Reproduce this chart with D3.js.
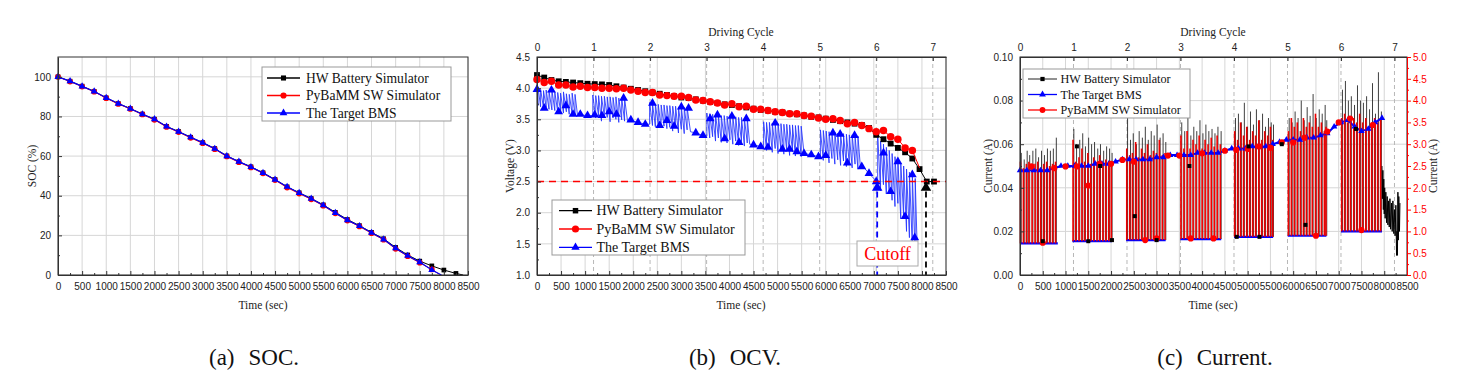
<!DOCTYPE html>
<html>
<head>
<meta charset="utf-8">
<script src="https://cdn.jsdelivr.net/npm/d3@7"></script>
<style>
  body { margin: 0; background: #fff; }
</style>
</head>
<body>
<div id="fig"></div>
<script>
// ---------------- data ----------------
const timeTicks = [0, 500, 1000, 1500, 2000, 2500, 3000, 3500, 4000, 4500, 5000, 5500, 6000, 6500, 7000, 7500, 8000, 8500];
const cycleTicks = [0, 1, 2, 3, 4, 5, 6, 7];
const cycleLen = 1175; // seconds per driving cycle (top axis)

// (a) SOC (%), one marker every 250 s
const socTicks = [0, 20, 40, 60, 80, 100];
const socTime = [0, 250, 500, 750, 1000, 1250, 1500, 1750, 2000, 2250, 2500, 2750, 3000, 3250, 3500, 3750, 4000,
  4250, 4500, 4750, 5000, 5250, 5500, 5750, 6000, 6250, 6500, 6750, 7000, 7250, 7500, 7750, 8000, 8250];
const socHW = [100, 97.8, 95.3, 92.7, 89.4, 86.5, 84.0, 81.2, 78.6, 75.0, 72.4, 69.5, 66.8, 63.8, 60.1, 57.2, 54.6,
  51.6, 48.2, 44.5, 41.5, 38.6, 35.4, 31.6, 28.0, 24.9, 21.5, 18.3, 13.9, 10.1, 7.0, 4.6, 2.5, 0.8];
const socPy = [100, 97.6, 95.1, 92.5, 89.2, 86.3, 83.8, 81.0, 78.3, 74.7, 72.1, 69.2, 66.5, 63.5, 59.8, 56.9, 54.3,
  51.3, 47.9, 44.1, 41.1, 38.2, 35.0, 31.1, 27.5, 24.5, 21.1, 17.8, 13.2, 9.5, 6.2, 2.8];
const socBMS = [100, 97.8, 95.2, 92.6, 89.4, 86.5, 83.9, 81.1, 78.6, 74.9, 72.3, 69.5, 66.8, 63.7, 60.0, 57.2, 54.5,
  51.5, 48.1, 44.5, 41.4, 38.5, 35.2, 31.3, 27.7, 24.7, 21.3, 18.0, 13.5, 9.7, 6.5, 2.5];
const socEmpty = [8400, 7930, 7950]; // time where HW / PyBaMM / BMS reach 0 %

// (b) voltage (V)
const voltTicks = [1.0, 1.5, 2.0, 2.5, 3.0, 3.5, 4.0, 4.5];
const voltStep = 150; // HW and PyBaMM markers every 150 s
const hwV = [4.21, 4.17, 4.13, 4.11, 4.10, 4.09, 4.08, 4.07, 4.065, 4.06,
  4.05, 4.03, 4.01, 3.99, 3.97, 3.95, 3.93, 3.91, 3.89, 3.87,
  3.85, 3.84, 3.82, 3.80, 3.78, 3.76, 3.74, 3.73, 3.71, 3.69,
  3.67, 3.65, 3.64, 3.62, 3.61, 3.59, 3.58, 3.56, 3.54, 3.53,
  3.51, 3.49, 3.47, 3.45, 3.43, 3.41, 3.36, 3.25, 3.18, 3.11,
  3.04, 2.97, 2.87, 2.70, 2.50, 2.50];
const pyV = [4.14, 4.09, 4.11, 4.05, 4.05, 4.02, 4.03, 4.01, 4.01, 4.00,
  4.00, 3.99, 4.00, 3.97, 3.95, 3.93, 3.93, 3.89, 3.88, 3.87,
  3.87, 3.85, 3.81, 3.80, 3.78, 3.76, 3.73, 3.75, 3.70, 3.71,
  3.66, 3.66, 3.64, 3.62, 3.61, 3.59, 3.59, 3.56, 3.55, 3.52,
  3.50, 3.51, 3.48, 3.43, 3.45, 3.40, 3.35, 3.30, 3.32, 3.22,
  3.18, 3.04, 3.00];
const pyVEnd = [7950, 2.72];
// BMS voltage: [time, value] or [time, value, spike top]
const bmsV = [
  [0, 4.05], [20, 3.72, 4.02], [75, 3.70, 3.98], [135, 3.68, 3.96], [190, 3.69, 3.97], [250, 3.66, 3.95], [310, 3.65, 3.97],
  [370, 3.64, 3.94], [430, 3.62, 3.93], [490, 3.63, 3.92], [550, 3.60, 3.94], [610, 3.62, 3.91], [670, 3.58, 3.90],
  [730, 3.59, 3.92], [790, 3.57, 3.90], [840, 3.58], [900, 3.58], [1000, 3.56], [1100, 3.56],
  [1160, 3.56, 3.89], [1220, 3.52, 3.88], [1280, 3.55, 3.88], [1340, 3.47, 3.87], [1400, 3.54, 3.87], [1460, 3.53, 3.86],
  [1520, 3.46, 3.86], [1580, 3.52, 3.85], [1640, 3.50, 3.86], [1700, 3.45, 3.84], [1760, 3.49, 3.85], [1820, 3.47, 3.84],
  [1880, 3.48], [1960, 3.48], [2100, 3.45], [2260, 3.42],
  [2340, 3.42, 3.77], [2400, 3.40, 3.76], [2460, 3.38, 3.74], [2520, 3.42, 3.74], [2580, 3.36, 3.73], [2640, 3.39, 3.73],
  [2700, 3.35, 3.72], [2760, 3.37, 3.72], [2820, 3.31, 3.71], [2880, 3.36, 3.71], [2940, 3.28, 3.70], [3000, 3.34, 3.70],
  [3060, 3.27, 3.69], [3120, 3.33, 3.69], [3190, 3.30], [3300, 3.28], [3455, 3.24],
  [3530, 3.23, 3.60], [3590, 3.20, 3.59], [3650, 3.22, 3.58], [3710, 3.15, 3.58], [3770, 3.20, 3.57], [3830, 3.13, 3.56],
  [3890, 3.19, 3.56], [3950, 3.12, 3.55], [4010, 3.17, 3.55], [4070, 3.10, 3.54], [4130, 3.15, 3.54], [4190, 3.08, 3.53],
  [4250, 3.14, 3.53], [4310, 3.07, 3.52], [4370, 3.12, 3.52], [4420, 3.10], [4510, 3.09], [4657, 3.06],
  [4710, 3.05, 3.46], [4770, 3.00, 3.45], [4830, 3.04, 3.45], [4890, 2.97, 3.44], [4950, 3.03, 3.44], [5010, 2.95, 3.43],
  [5070, 3.01, 3.43], [5130, 2.94, 3.42], [5190, 3.00, 3.42], [5250, 2.92, 3.41], [5310, 2.98, 3.41], [5370, 2.91, 3.40],
  [5430, 2.97, 3.40], [5490, 2.90, 3.39], [5550, 2.95], [5700, 2.93], [5850, 2.90],
  [5890, 2.90, 3.33], [5950, 2.84, 3.32], [6010, 2.89, 3.31], [6070, 2.80, 3.30], [6130, 2.87, 3.29], [6190, 2.78, 3.29],
  [6250, 2.85, 3.28], [6310, 2.76, 3.27], [6370, 2.83, 3.27], [6430, 2.74, 3.26], [6490, 2.80, 3.25], [6550, 2.72, 3.25],
  [6610, 2.78, 3.24], [6670, 2.70, 3.23], [6720, 2.74], [6800, 2.72], [6910, 2.62], [7065, 2.50],
  [7080, 2.40, 3.25], [7140, 2.35, 3.15], [7200, 2.45, 3.10], [7260, 2.30, 3.05], [7320, 2.33, 3.00], [7380, 2.20, 2.95],
  [7440, 2.10, 2.90], [7500, 2.15, 2.85], [7560, 1.90, 2.80], [7620, 1.95, 2.75], [7680, 1.70, 2.70], [7740, 1.60, 2.65],
  [7800, 1.45, 2.62], [7860, 1.30, 2.55], [7910, 1.20]];
const bmsMarkV = [[0, 3.98], [150, 3.68], [300, 3.97], [450, 3.62], [600, 3.72], [750, 3.58], [900, 3.58], [1050, 3.56],
  [1200, 3.57], [1350, 3.56], [1500, 3.62], [1650, 3.58], [1800, 3.84], [1950, 3.49], [2100, 3.45], [2250, 3.42],
  [2400, 3.76], [2550, 3.40], [2700, 3.48], [2850, 3.39], [3000, 3.70], [3150, 3.68], [3300, 3.28], [3450, 3.24],
  [3600, 3.51], [3750, 3.57], [3900, 3.19], [4050, 3.55], [4200, 3.13], [4350, 3.51], [4500, 3.09], [4650, 3.06],
  [4800, 3.05], [4950, 3.44], [5100, 3.02], [5250, 3.02], [5400, 2.98], [5550, 2.95], [5700, 2.93], [5850, 2.90],
  [6000, 2.92], [6150, 3.28], [6300, 3.26], [6450, 2.80], [6600, 3.24], [6750, 2.74], [6900, 2.63], [7050, 2.50],
  [7200, 2.96], [7350, 2.34], [7500, 2.82], [7650, 1.94], [7800, 2.61], [7850, 1.60]];
const cutoffV = 2.5;
const cutoffTime = [7070, 8084]; // BMS, HW
const cutoffMark = 2.40;

// (c) current (A); PyBaMM is read on the right axis
const curTicks = [0, 0.02, 0.04, 0.06, 0.08, 0.10];
const curRightTicks = [0, 0.5, 1.0, 1.5, 2.0, 2.5, 3.0, 3.5, 4.0, 4.5, 5.0];
const burstStart = [0, 1150, 2330, 3520, 4700, 5880, 7050];
const burstEnd = [830, 2020, 3200, 4420, 5560, 6730, 7950];
const burstLowA = [0.0145, 0.0155, 0.016, 0.0165, 0.0175, 0.018, 0.020];
const pulseTime = [
  [10, 75, 140, 195, 265, 330, 390, 455, 520, 585, 650, 715, 780],
  [1165, 1225, 1295, 1360, 1420, 1490, 1555, 1620, 1690, 1750, 1820, 1885, 1950, 2005],
  [2345, 2410, 2470, 2540, 2600, 2670, 2735, 2800, 2865, 2930, 2995, 3060, 3125, 3185],
  [3535, 3600, 3670, 3735, 3800, 3865, 3935, 4000, 4065, 4130, 4200, 4265, 4330, 4400],
  [4715, 4780, 4845, 4910, 4980, 5045, 5110, 5175, 5245, 5310, 5375, 5440, 5500, 5550],
  [5895, 5960, 6025, 6090, 6160, 6225, 6290, 6355, 6420, 6490, 6555, 6620, 6685, 6720],
  [7065, 7130, 7195, 7260, 7330, 7395, 7460, 7525, 7595, 7660, 7725, 7790, 7855, 7920]];
const pulseHW = [
  [0.056, 0.053, 0.057, 0.055, 0.057, 0.058, 0.054, 0.057, 0.055, 0.058, 0.057, 0.058, 0.063],
  [0.067, 0.060, 0.062, 0.065, 0.059, 0.063, 0.060, 0.061, 0.058, 0.060, 0.057, 0.059, 0.058, 0.056],
  [0.072, 0.062, 0.065, 0.060, 0.066, 0.063, 0.068, 0.062, 0.066, 0.064, 0.069, 0.063, 0.065, 0.061],
  [0.070, 0.066, 0.073, 0.064, 0.068, 0.066, 0.071, 0.065, 0.069, 0.066, 0.067, 0.065, 0.068, 0.066],
  [0.072, 0.074, 0.070, 0.079, 0.068, 0.075, 0.069, 0.076, 0.071, 0.074, 0.068, 0.072, 0.070, 0.069],
  [0.072, 0.070, 0.075, 0.072, 0.080, 0.071, 0.077, 0.073, 0.083, 0.072, 0.076, 0.074, 0.078, 0.071],
  [0.085, 0.089, 0.080, 0.082, 0.078, 0.087, 0.080, 0.079, 0.082, 0.076, 0.088, 0.074, 0.093, 0.075]];
const pulsePy = [
  [2.60, 2.45, 2.55, 2.60, 2.50, 2.55, 2.60, 2.45, 2.55, 2.60, 2.50, 2.55, 2.60],
  [3.10, 2.60, 2.70, 2.90, 2.60, 2.80, 2.55, 2.70, 2.60, 2.75, 2.55, 2.65, 2.60, 2.55],
  [2.90, 2.75, 2.80, 3.05, 2.70, 2.90, 2.80, 3.00, 2.75, 2.85, 2.80, 3.10, 2.75, 2.80],
  [3.20, 2.90, 3.30, 2.90, 3.10, 3.00, 3.20, 2.90, 3.10, 3.00, 3.15, 2.95, 3.20, 3.00],
  [3.30, 3.10, 3.50, 3.20, 3.40, 3.10, 3.30, 3.20, 3.55, 3.10, 3.30, 3.20, 3.40, 3.10],
  [3.30, 3.60, 3.40, 3.50, 3.30, 3.60, 3.40, 3.50, 3.40, 3.70, 3.40, 3.50, 3.30, 3.40],
  [3.60, 3.70, 3.50, 3.60, 3.60, 3.50, 3.70, 3.50, 3.60, 3.40, 3.50, 3.60, 3.50, 3.60]];
const bmsTopStep = 150;
const bmsTopA = [0.048, 0.048, 0.048, 0.048, 0.048, 0.049, 0.050, 0.050, 0.050, 0.050,
  0.050, 0.051, 0.051, 0.051, 0.052, 0.053, 0.053, 0.053, 0.053, 0.053,
  0.054, 0.054, 0.055, 0.055, 0.055, 0.055, 0.056, 0.056, 0.056, 0.056,
  0.057, 0.058, 0.058, 0.058, 0.059, 0.059, 0.059, 0.060, 0.061, 0.062,
  0.062, 0.062, 0.063, 0.063, 0.064, 0.065, 0.068, 0.070, 0.071, 0.068,
  0.066, 0.067, 0.070, 0.072];
const pyMarkT = [250, 500, 750, 1000, 1250, 1500, 1750, 2000, 2250, 2500, 2750, 3000, 3250, 3500, 3750, 4000,
  4250, 4500, 4750, 5000, 5250, 5500, 5750, 6000, 6250, 6500, 6750, 7000, 7250, 7500, 7750];
const pyMarkA = [2.49, 0.74, 2.45, 2.49, 2.49, 2.05, 2.55, 2.55, 2.64, 2.60, 0.80, 0.84, 2.74, 2.74, 0.84, 2.79,
  0.84, 2.85, 2.87, 2.89, 2.95, 2.92, 3.04, 3.04, 3.15, 0.90, 3.29, 3.50, 3.59, 1.03, 3.44];
const hwMarkA = [[500, 0.0155], [1250, 0.059], [1500, 0.0155], [1760, 0.050], [2020, 0.016], [2520, 0.027],
  [3000, 0.016], [3720, 0.050], [4760, 0.0175], [5020, 0.059], [5260, 0.0175], [5750, 0.060], [6270, 0.023], [7380, 0.067]];
const hwTail = [[7950, 0.050], [7960, 0.035], [7970, 0.048], [7980, 0.030], [7990, 0.044], [8000, 0.028], [8010, 0.040],
  [8020, 0.026], [8035, 0.038], [8050, 0.024], [8065, 0.036], [8080, 0.023], [8095, 0.034], [8110, 0.022], [8125, 0.035],
  [8140, 0.021], [8160, 0.033], [8175, 0.020], [8190, 0.034], [8210, 0.019], [8225, 0.030], [8240, 0.018], [8255, 0.032],
  [8270, 0.009], [8280, 0.020], [8290, 0.009], [8300, 0.038], [8310, 0.016], [8320, 0.036], [8335, 0.020], [8345, 0.033]];

const names = ["HW Battery Simulator", "PyBaMM SW Simulator", "The Target BMS"];
const captions = [["(a)", "SOC."], ["(b)", "OCV."], ["(c)", "Current."]];

// ---------------- drawing ----------------
const serif = "'Liberation Serif', 'Times New Roman', Times, serif";
const sans = "'Liberation Sans', Arial, sans-serif";
const gridColor = "#d6d6d6";
const axisColor = "#333";
const BLUE = "#0000ff", RED = "#ff0000", BLACK = "#000";

const svg = d3.select("#fig").append("svg").attr("width", 1467).attr("height", 381)
  .attr("font-family", serif);
svg.append("rect").attr("width", "100%").attr("height", "100%").attr("fill", "#fff");

function minorOf(ticks) {
  let out = [];
  for (let i = 0; i < ticks.length - 1; i++) out.push((ticks[i] + ticks[i + 1]) / 2);
  return out;
}

function grid(x, y, yVals, cyc) {
  const g = svg.append("g");
  const [l, r] = x.range(), [b, t] = y.range();
  g.selectAll("line.gx").data(timeTicks).join("line").attr("class", "gx")
    .attr("x1", d => x(d)).attr("x2", d => x(d)).attr("y1", t).attr("y2", b)
    .attr("stroke", gridColor);
  g.selectAll("line.gy").data(yVals).join("line").attr("class", "gy")
    .attr("x1", l).attr("x2", r).attr("y1", d => y(d)).attr("y2", d => y(d))
    .attr("stroke", gridColor);
  if (cyc) {
    g.selectAll("line.gc").data(cycleTicks.slice(1)).join("line").attr("class", "gc")
      .attr("x1", d => cyc(d)).attr("x2", d => cyc(d)).attr("y1", t).attr("y2", b)
      .attr("stroke", "#b8b8b8").attr("stroke-dasharray", "4,3");
  }
}

function axes(x, y, yTicks, fmt, cyc) {
  const g = svg.append("g").attr("color", axisColor);
  const [l, r] = x.range(), [b, t] = y.range();
  g.append("g").attr("transform", `translate(0,${b})`)
    .call(d3.axisBottom(x).tickValues(timeTicks).tickFormat(d3.format("d")).tickSize(-4).tickSizeOuter(0).tickPadding(8))
    .attr("font-family", sans).attr("font-size", 10);
  g.append("g").attr("transform", `translate(0,${b})`)
    .call(d3.axisBottom(x).tickValues(minorOf(timeTicks)).tickSize(-2).tickFormat(""))
    .call(s => s.select(".domain").remove());
  g.append("g").attr("transform", `translate(${l},0)`)
    .call(d3.axisLeft(y).tickValues(yTicks).tickFormat(fmt).tickSize(-4).tickSizeOuter(0).tickPadding(7))
    .attr("font-family", sans).attr("font-size", 10);
  g.append("g").attr("transform", `translate(${l},0)`)
    .call(d3.axisLeft(y).tickValues(minorOf(yTicks)).tickSize(-2).tickFormat(""))
    .call(s => s.select(".domain").remove());
  if (cyc) {
    g.append("g").attr("transform", `translate(0,${t})`)
      .call(d3.axisTop(cyc).tickValues(cycleTicks).tickSize(-4).tickSizeOuter(0).tickPadding(6))
      .attr("font-family", sans).attr("font-size", 10);
  }
  g.selectAll(".tick text").attr("fill", "#222");
  g.append("rect").attr("x", l).attr("y", t).attr("width", r - l).attr("height", b - t)
    .attr("fill", "none").attr("stroke", axisColor);
  return g;
}

function markers(data, x, y, type, size, color) {
  return svg.append("g").selectAll("path").data(data).join("path")
    .attr("transform", d => `translate(${x(d[0])},${y(d[1])})`)
    .attr("d", d3.symbol(type, size)())
    .attr("fill", color);
}

function legend(x0, y0, w, h, rows, o) {
  const g = svg.append("g");
  g.append("rect").attr("x", x0).attr("y", y0).attr("width", w).attr("height", h)
    .attr("fill", "#fff").attr("stroke", "#999");
  rows.forEach(function(d, i) {
    const cy = y0 + o.first + i * o.step;
    g.append("line").attr("x1", x0 + o.l1).attr("x2", x0 + o.l2).attr("y1", cy).attr("y2", cy)
      .attr("stroke", d[2]).attr("stroke-width", 1.3);
    g.append("path").attr("transform", `translate(${x0 + (o.l1 + o.l2) / 2},${cy})`)
      .attr("d", d3.symbol(d[3], d[4])()).attr("fill", d[1]);
    g.append("text").attr("x", x0 + o.tx).attr("y", cy).attr("dy", "0.34em")
      .attr("font-family", serif).attr("font-size", o.fs).attr("fill", "#111").text(d[0]);
  });
}

function title(x, y, txt, rot, color) {
  const t = svg.append("text").attr("font-family", serif).attr("font-size", 11.5).attr("fill", color || "#222")
    .attr("text-anchor", "middle").text(txt);
  if (rot) t.attr("transform", `translate(${x},${y}) rotate(-90)`);
  else t.attr("x", x).attr("y", y);
}

const line = (x, y) => d3.line().x(d => x(d[0])).y(d => y(d[1]));

// ===== (a) SOC =====
{
  const x = d3.scaleLinear().domain([0, 8500]).range([58, 468]);
  const y = d3.scaleLinear().domain([0, 110]).range([275, 57]);
  grid(x, y, socTicks, null);
  const hw = socHW.map((v, i) => [socTime[i], v]);
  const py = socPy.map((v, i) => [socTime[i], v]);
  const bms = socBMS.map((v, i) => [socTime[i], v]);
  svg.append("path").attr("d", line(x, y)(hw.concat([[socEmpty[0], 0]])))
    .attr("fill", "none").attr("stroke", BLACK).attr("stroke-width", 1);
  markers(hw, x, y, d3.symbolSquare, 22, BLACK);
  svg.append("path").attr("d", line(x, y)(py.concat([[socEmpty[1], 0]])))
    .attr("fill", "none").attr("stroke", RED).attr("stroke-width", 1);
  markers(py, x, y, d3.symbolCircle, 26, RED);
  svg.append("path").attr("d", line(x, y)(bms.concat([[socEmpty[2], 0]])))
    .attr("fill", "none").attr("stroke", BLUE).attr("stroke-width", 1.2);
  markers(bms, x, y, d3.symbolTriangle, 22, BLUE);
  axes(x, y, socTicks, d3.format("d"), null);
  title(263, 309, "Time (sec)");
  title(36, 166, "SOC (%)", true);
  legend(262, 67, 189, 54, [
    [names[0], BLACK, BLACK, d3.symbolSquare, 26],
    [names[1], RED, RED, d3.symbolCircle, 30],
    [names[2], BLUE, BLUE, d3.symbolTriangle, 26]],
    {first: 11, step: 17.5, l1: 5, l2: 38, tx: 44, fs: 13.6});
}

// ===== (b) OCV =====
{
  const x = d3.scaleLinear().domain([0, 8500]).range([537, 946]);
  const y = d3.scaleLinear().domain([1.0, 4.5]).range([275, 57]);
  const cyc = d3.scaleLinear().domain([0, 8500 / cycleLen]).range([537, 946]);
  grid(x, y, voltTicks, cyc);

  // BMS voltage with its spikes
  let bmsPts = [];
  bmsV.forEach(function(d) {
    bmsPts.push([d[0], d[1]]);
    if (d.length > 2) bmsPts.push([d[0], d[2]]);
  });
  svg.append("path").attr("d", line(x, y)(bmsPts))
    .attr("fill", "none").attr("stroke", "#2233ff").attr("stroke-width", 1).attr("opacity", 0.85);
  markers(bmsMarkV, x, y, d3.symbolTriangle, 34, BLUE);

  const hw = hwV.map((v, i) => [i * voltStep, v]);
  const py = pyV.map((v, i) => [i * voltStep, v]);
  svg.append("path").attr("d", line(x, y)(hw))
    .attr("fill", "none").attr("stroke", BLACK).attr("stroke-width", 1);
  markers(hw, x, y, d3.symbolSquare, 34, BLACK);
  svg.append("path").attr("d", line(x, y)(py.concat([pyVEnd])))
    .attr("fill", "none").attr("stroke", RED).attr("stroke-width", 1);
  markers(py, x, y, d3.symbolCircle, 44, RED);

  // cutoff line and markers
  svg.append("line").attr("x1", x(0)).attr("x2", x(8500)).attr("y1", y(cutoffV)).attr("y2", y(cutoffV))
    .attr("stroke", RED).attr("stroke-width", 1.6).attr("stroke-dasharray", "7,5");
  const cutColors = [BLUE, BLACK];
  cutoffTime.forEach(function(t, i) {
    svg.append("line").attr("x1", x(t)).attr("x2", x(t)).attr("y1", y(cutoffV)).attr("y2", y(1.0))
      .attr("stroke", cutColors[i]).attr("stroke-width", 1.8).attr("stroke-dasharray", "6,4");
  });
  markers(cutoffTime.map(t => [t, cutoffMark]), x, y, d3.symbolTriangle, 48, BLACK)
    .attr("fill", (d, i) => cutColors[i]);

  axes(x, y, voltTicks, d3.format(".1f"), cyc);
  title(741, 309, "Time (sec)");
  title(741, 36, "Driving Cycle");
  title(514, 166, "Voltage (V)", true);
  legend(552, 200, 193, 55, [
    [names[0], BLACK, BLACK, d3.symbolSquare, 30],
    [names[1], RED, RED, d3.symbolCircle, 40],
    [names[2], BLUE, BLUE, d3.symbolTriangle, 30]],
    {first: 10.7, step: 18.3, l1: 7, l2: 40, tx: 44.5, fs: 14});
  // cutoff label
  svg.append("rect").attr("x", 857).attr("y", 241).attr("width", 61).attr("height", 25)
    .attr("fill", "#fff").attr("stroke", "#aaa");
  svg.append("text").attr("x", 887.5).attr("y", 259.5).attr("text-anchor", "middle")
    .attr("font-family", serif).attr("font-size", 18).attr("fill", RED).text("Cutoff");
}

// ===== (c) Current =====
{
  const x = d3.scaleLinear().domain([0, 8500]).range([1020, 1407]);
  const y = d3.scaleLinear().domain([0, 0.1]).range([275, 57]);
  const yr = d3.scaleLinear().domain([0, 5]).range([275, 57]);
  const cyc = d3.scaleLinear().domain([0, 8500 / cycleLen]).range([1020, 1407]);
  grid(x, y, curTicks, cyc);

  // HW pulses (behind)
  const gHW = svg.append("g").attr("stroke", "#111").attr("stroke-width", 1).attr("opacity", 0.8);
  pulseTime.forEach(function(ts, b) {
    ts.forEach(function(t, i) {
      gHW.append("line").attr("x1", x(t) + 0.8).attr("x2", x(t) + 0.8)
        .attr("y1", y(burstLowA[b])).attr("y2", y(pulseHW[b][i]));
    });
  });
  svg.append("path").attr("d", line(x, y)(hwTail))
    .attr("fill", "none").attr("stroke", BLACK).attr("stroke-width", 1);

  // BMS top level and burst floors
  const top = bmsTopA.map((v, i) => [i * bmsTopStep, v]);
  svg.append("path").attr("d", line(x, y)(top))
    .attr("fill", "none").attr("stroke", BLUE).attr("stroke-width", 2);
  burstStart.forEach(function(s, b) {
    svg.append("line").attr("x1", x(s)).attr("x2", x(burstEnd[b]))
      .attr("y1", y(burstLowA[b])).attr("y2", y(burstLowA[b]))
      .attr("stroke", BLUE).attr("stroke-width", 2.2);
  });

  // PyBaMM pulses (right axis)
  const gPy = svg.append("g").attr("stroke", "#ee0000").attr("stroke-width", 1.6);
  pulseTime.forEach(function(ts, b) {
    ts.forEach(function(t, i) {
      gPy.append("line").attr("x1", x(t)).attr("x2", x(t))
        .attr("y1", yr(burstLowA[b] * 50)).attr("y2", yr(pulsePy[b][i]));
    });
  });

  markers(top, x, y, d3.symbolTriangle, 18, BLUE);
  markers(pyMarkT.map((t, i) => [t, pyMarkA[i]]), x, yr, d3.symbolCircle, 30, RED);
  markers(hwMarkA, x, y, d3.symbolSquare, 16, BLACK);

  axes(x, y, curTicks, d3.format(".2f"), cyc);
  const gr = svg.append("g").attr("color", RED).attr("transform", "translate(1407,0)");
  gr.call(d3.axisRight(yr).tickValues(curRightTicks).tickFormat(d3.format(".1f")).tickSize(4).tickSizeOuter(0).tickPadding(2))
    .attr("font-family", sans).attr("font-size", 10);
  gr.append("g").call(d3.axisRight(yr).tickValues(minorOf(curRightTicks)).tickSize(2).tickFormat(""))
    .call(s => s.select(".domain").remove());
  gr.selectAll(".tick text").attr("fill", RED);

  title(1213, 309, "Time (sec)");
  title(1213, 36, "Driving Cycle");
  title(992, 166, "Current (A)", true);
  title(1437, 166, "Current (A)", true);
  legend(1023, 69, 167, 49, [
    [names[0], BLACK, "#555", d3.symbolSquare, 18],
    [names[2], BLUE, BLUE, d3.symbolTriangle, 20],
    [names[1], RED, RED, d3.symbolCircle, 26]],
    {first: 10, step: 15.5, l1: 5, l2: 34, tx: 37.5, fs: 12.2});
}

// captions
const capX = [254, 735, 1215];
captions.forEach(function(c, i) {
  const t = svg.append("text").attr("x", capX[i]).attr("y", 365).attr("text-anchor", "middle")
    .attr("font-family", serif).attr("font-size", 23).attr("fill", "#111");
  t.append("tspan").text(c[0]);
  t.append("tspan").attr("dx", 14).text(c[1]);
});
</script>
</body>
</html>
